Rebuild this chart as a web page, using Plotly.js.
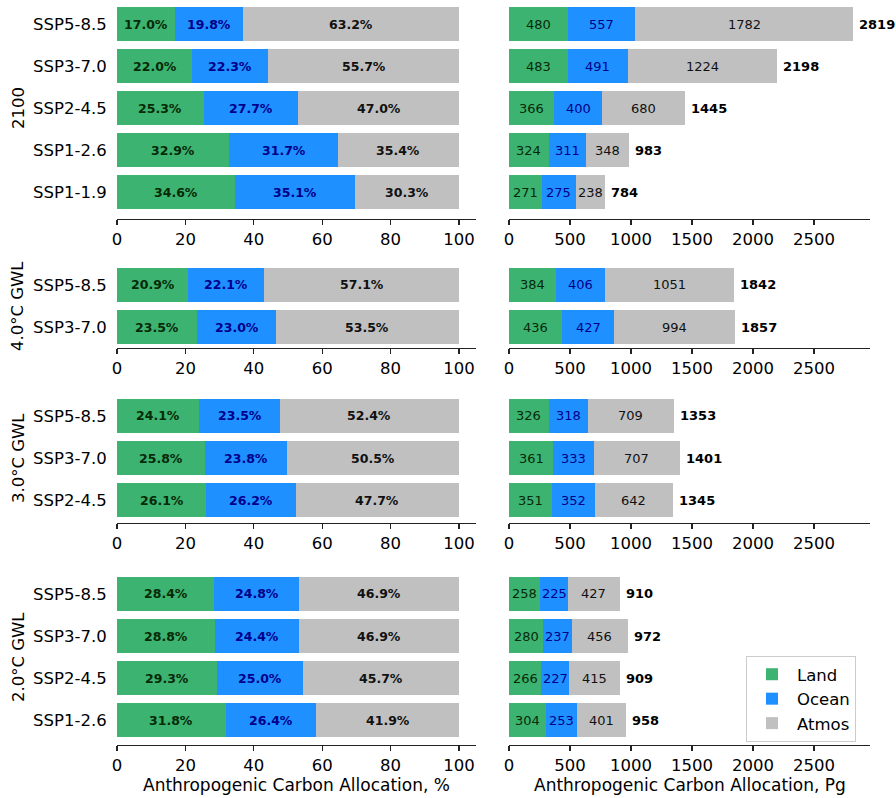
<!DOCTYPE html>
<html>
<head>
<meta charset="utf-8">
<script src="https://cdn.plot.ly/plotly-3.0.1.min.js"></script>
<style>html,body{margin:0;padding:0;background:#fff;}#chart{width:896px;height:798px;}</style>
</head>
<body>
<div id="chart"></div>
<script>
// ---- DATA ----
const groupNames = ['2100', '4.0°C GWL', '3.0°C GWL', '2.0°C GWL'];
const componentNames = ['Land', 'Ocean', 'Atmos'];

const scen2100 = ['SSP5-8.5', 'SSP3-7.0', 'SSP2-4.5', 'SSP1-2.6', 'SSP1-1.9'];
const landPct2100 = [17.0, 22.0, 25.3, 32.9, 34.6];
const oceanPct2100 = [19.8, 22.3, 27.7, 31.7, 35.1];
const atmosPct2100 = [63.2, 55.7, 47.0, 35.4, 30.3];
const landPg2100 = [480, 483, 366, 324, 271];
const oceanPg2100 = [557, 491, 400, 311, 275];
const atmosPg2100 = [1782, 1224, 680, 348, 238];
const totalPg2100 = [2819, 2198, 1445, 983, 784];

const scen40 = ['SSP5-8.5', 'SSP3-7.0'];
const landPct40 = [20.9, 23.5];
const oceanPct40 = [22.1, 23.0];
const atmosPct40 = [57.1, 53.5];
const landPg40 = [384, 436];
const oceanPg40 = [406, 427];
const atmosPg40 = [1051, 994];
const totalPg40 = [1842, 1857];

const scen30 = ['SSP5-8.5', 'SSP3-7.0', 'SSP2-4.5'];
const landPct30 = [24.1, 25.8, 26.1];
const oceanPct30 = [23.5, 23.8, 26.2];
const atmosPct30 = [52.4, 50.5, 47.7];
const landPg30 = [326, 361, 351];
const oceanPg30 = [318, 333, 352];
const atmosPg30 = [709, 707, 642];
const totalPg30 = [1353, 1401, 1345];

const scen20 = ['SSP5-8.5', 'SSP3-7.0', 'SSP2-4.5', 'SSP1-2.6'];
const landPct20 = [28.4, 28.8, 29.3, 31.8];
const oceanPct20 = [24.8, 24.4, 25.0, 26.4];
const atmosPct20 = [46.9, 46.9, 45.7, 41.9];
const landPg20 = [258, 280, 266, 304];
const oceanPg20 = [225, 237, 227, 253];
const atmosPg20 = [427, 456, 415, 401];
const totalPg20 = [910, 972, 909, 958];

const pctTicks = [0, 20, 40, 60, 80, 100];
const pgTicks = [0, 500, 1000, 1500, 2000, 2500];

// ---- STYLE / LAYOUT ----
const W = 896, H = 798;
const colors = ['#3CB371', '#1E90FF', '#C0C0C0'];
const textColors = ['#072a07', '#00008B', '#111111'];
const FONT = 'DejaVu Sans, sans-serif';

const groups = [
  {scen: scen2100, pct: [landPct2100, oceanPct2100, atmosPct2100], pg: [landPg2100, oceanPg2100, atmosPg2100], tot: totalPg2100,
   top: 0, bot: 219, range: [4.64, 4.64 - 219/42], titleY: 108},
  {scen: scen40, pct: [landPct40, oceanPct40, atmosPct40], pg: [landPg40, oceanPg40, atmosPg40], tot: totalPg40,
   top: 264.4, bot: 347.6, range: [1.49, -0.49], titleY: 306},
  {scen: scen30, pct: [landPct30, oceanPct30, atmosPct30], pg: [landPg30, oceanPg30, atmosPg30], tot: totalPg30,
   top: 393.3, bot: 522.7, range: [2.54, -0.54], titleY: 458},
  {scen: scen20, pct: [landPct20, oceanPct20, atmosPct20], pg: [landPg20, oceanPg20, atmosPg20], tot: totalPg20,
   top: 569.2, bot: 744.8, range: [3.59, -0.59], titleY: 657}
];

const traces = [];
const annotations = [];
const layout = {
  width: W, height: H,
  margin: {l: 0, r: 0, t: 0, b: 0},
  paper_bgcolor: '#fff', plot_bgcolor: '#fff',
  barmode: 'stack',
  font: {family: FONT, size: 16, color: '#000'},
  showlegend: true,
  legend: {
    x: 746 / W, y: 1 - 656 / H, xanchor: 'left', yanchor: 'top',
    bgcolor: '#fff', bordercolor: '#cccccc', borderwidth: 1,
    font: {family: FONT, size: 16.5, color: '#000'},
    itemwidth: 40, traceorder: 'normal'
  },
  annotations: annotations
};

const leftDom = [117 / W, 476 / W];
const rightDom = [509 / W, 870 / W];

groups.forEach((g, r) => {
  const xl = 2 * r + 1, xr = 2 * r + 2;
  const xlN = xl === 1 ? 'x' : 'x' + xl, xrN = 'x' + xr;
  const ylN = xl === 1 ? 'y' : 'y' + xl, yrN = 'y' + xr;
  const yDom = [1 - g.bot / H, Math.min(1, 1 - g.top / H)];
  const idx = g.scen.map((_, i) => i);

  const axisCommon = {
    showgrid: false, zeroline: false, showline: true, linecolor: '#222', linewidth: 1.2,
    ticks: 'outside', ticklen: 5, tickwidth: 1.2, tickcolor: '#222',
    tickfont: {family: FONT, size: 16.5, color: '#000'}, fixedrange: true
  };
  layout['xaxis' + (xl === 1 ? '' : xl)] = Object.assign({}, axisCommon, {
    domain: leftDom, anchor: ylN, range: [0, 105], tickmode: 'array', tickvals: pctTicks
  });
  layout['xaxis' + xr] = Object.assign({}, axisCommon, {
    domain: rightDom, anchor: yrN, range: [0, 2960], tickmode: 'array', tickvals: pgTicks
  });
  layout['yaxis' + (xl === 1 ? '' : xl)] = {
    domain: yDom, anchor: xlN, range: g.range, showgrid: false, zeroline: false, showline: false,
    tickmode: 'array', tickvals: idx, ticktext: g.scen, ticks: 'outside', ticklen: 6,
    tickcolor: 'rgba(0,0,0,0)', tickfont: {family: FONT, size: 16.5, color: '#000'}, fixedrange: true
  };
  layout['yaxis' + xr] = {
    domain: yDom, anchor: xrN, range: g.range, showgrid: false, zeroline: false, showline: false,
    showticklabels: false, ticks: '', fixedrange: true
  };

  // bars
  for (let c = 0; c < 3; c++) {
    traces.push({
      type: 'bar', orientation: 'h', x: g.pct[c], y: idx, width: 0.8,
      xaxis: xlN, yaxis: ylN, marker: {color: colors[c], line: {width: 0}},
      name: componentNames[c], legendgroup: componentNames[c], showlegend: false, hoverinfo: 'skip'
    });
    traces.push({
      type: 'bar', orientation: 'h', x: g.pg[c], y: idx, width: 0.8,
      xaxis: xrN, yaxis: yrN, marker: {color: colors[c], line: {width: 0}},
      name: componentNames[c], legendgroup: componentNames[c], showlegend: r === 3, hoverinfo: 'skip'
    });
  }

  // labels
  idx.forEach(i => {
    let cumP = 0, cumG = 0;
    for (let c = 0; c < 3; c++) {
      const p = g.pct[c][i], v = g.pg[c][i];
      annotations.push({
        xref: xlN, yref: ylN, x: cumP + p / 2, y: i, showarrow: false,
        text: '<b>' + p.toFixed(1) + '%</b>', xanchor: 'center', yanchor: 'middle',
        font: {family: FONT, size: 12.5, color: textColors[c]}
      });
      annotations.push({
        xref: xrN, yref: yrN, x: cumG + v / 2, y: i, showarrow: false,
        text: String(v), xanchor: 'center', yanchor: 'middle',
        font: {family: FONT, size: 13, color: textColors[c]}
      });
      cumP += p; cumG += v;
    }
    annotations.push({
      xref: xrN, yref: yrN, x: cumG, y: i, showarrow: false, xshift: 4,
      text: '<b>' + g.tot[i] + '</b>', xanchor: 'left', yanchor: 'middle',
      font: {family: FONT, size: 13, color: '#000'}
    });
  });

  // group title
  annotations.push({
    xref: 'paper', yref: 'paper', x: 18 / W, y: 1 - g.titleY / H, showarrow: false,
    text: groupNames[r], textangle: -90, xanchor: 'center', yanchor: 'middle',
    font: {family: FONT, size: 16.5, color: '#000'}
  });
});

// x titles
annotations.push({
  xref: 'paper', yref: 'paper', x: 296.5 / W, y: 1 - 785 / H, showarrow: false,
  text: 'Anthropogenic Carbon Allocation, %', xanchor: 'center', yanchor: 'middle',
  font: {family: FONT, size: 17, color: '#000'}
});
annotations.push({
  xref: 'paper', yref: 'paper', x: 689.5 / W, y: 1 - 785 / H, showarrow: false,
  text: 'Anthropogenic Carbon Allocation, Pg', xanchor: 'center', yanchor: 'middle',
  font: {family: FONT, size: 17, color: '#000'}
});

Plotly.newPlot('chart', traces, layout, {displayModeBar: false, staticPlot: true});
</script>
</body>
</html>
